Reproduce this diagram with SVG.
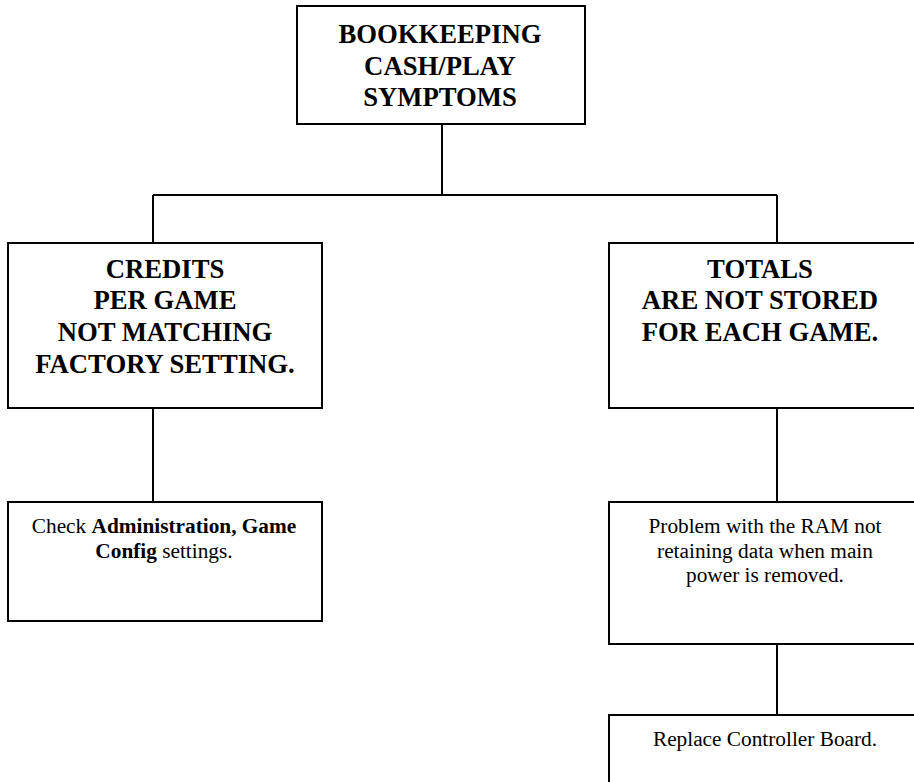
<svg xmlns="http://www.w3.org/2000/svg" width="914" height="782" viewBox="0 0 914 782">
<style>
.box{fill:#fff;stroke:#000;stroke-width:2}
.conn{fill:none;stroke:#000;stroke-width:2}
.h{font-family:"Liberation Serif","Times New Roman",serif;font-size:26.7px;font-weight:bold;text-anchor:middle;fill:#000}
.t{font-family:"Liberation Serif","Times New Roman",serif;font-size:21.3px;text-anchor:middle;fill:#000}
.b{font-weight:bold}
</style>
<rect width="914" height="782" fill="#fff"/>
<g id="connectors">
<path class="conn" d="M442 124V195M153 195H777M153 195V243M777 195V243"/>
<path class="conn" d="M153 408V502"/>
<path class="conn" d="M777 408V502"/>
<path class="conn" d="M777 644V715"/>
</g>
<g id="n-root">
<rect class="box" x="297" y="6" width="288" height="118"/>
<text class="h" x="440" y="43">BOOKKEEPING</text>
<text class="h" x="440" y="75">CASH/PLAY</text>
<text class="h" x="440" y="106">SYMPTOMS</text>
</g>
<g id="n-credits">
<rect class="box" x="8" y="243" width="314" height="165"/>
<text class="h" x="165" y="278">CREDITS</text>
<text class="h" x="165" y="309">PER GAME</text>
<text class="h" x="165" y="341">NOT MATCHING</text>
<text class="h" x="165" y="373">FACTORY SETTING.</text>
</g>
<g id="n-totals">
<rect class="box" x="609" y="243" width="314" height="165"/>
<text class="h" x="760" y="278">TOTALS</text>
<text class="h" x="760" y="309">ARE NOT STORED</text>
<text class="h" x="760" y="341">FOR EACH GAME.</text>
</g>
<g id="n-check">
<rect class="box" x="8" y="502" width="314" height="119"/>
<text class="t" x="164" y="533">Check <tspan class="b">Administration, Game</tspan></text>
<text class="t" x="164" y="558"><tspan class="b">Config</tspan> settings.</text>
</g>
<g id="n-ram">
<rect class="box" x="609" y="502" width="314" height="142"/>
<text class="t" x="765" y="533">Problem with the RAM not</text>
<text class="t" x="765" y="558">retaining data when main</text>
<text class="t" x="765" y="582">power is removed.</text>
</g>
<g id="n-replace">
<rect class="box" x="609" y="715" width="314" height="80"/>
<text class="t" x="765" y="746">Replace Controller Board.</text>
</g>
</svg>
